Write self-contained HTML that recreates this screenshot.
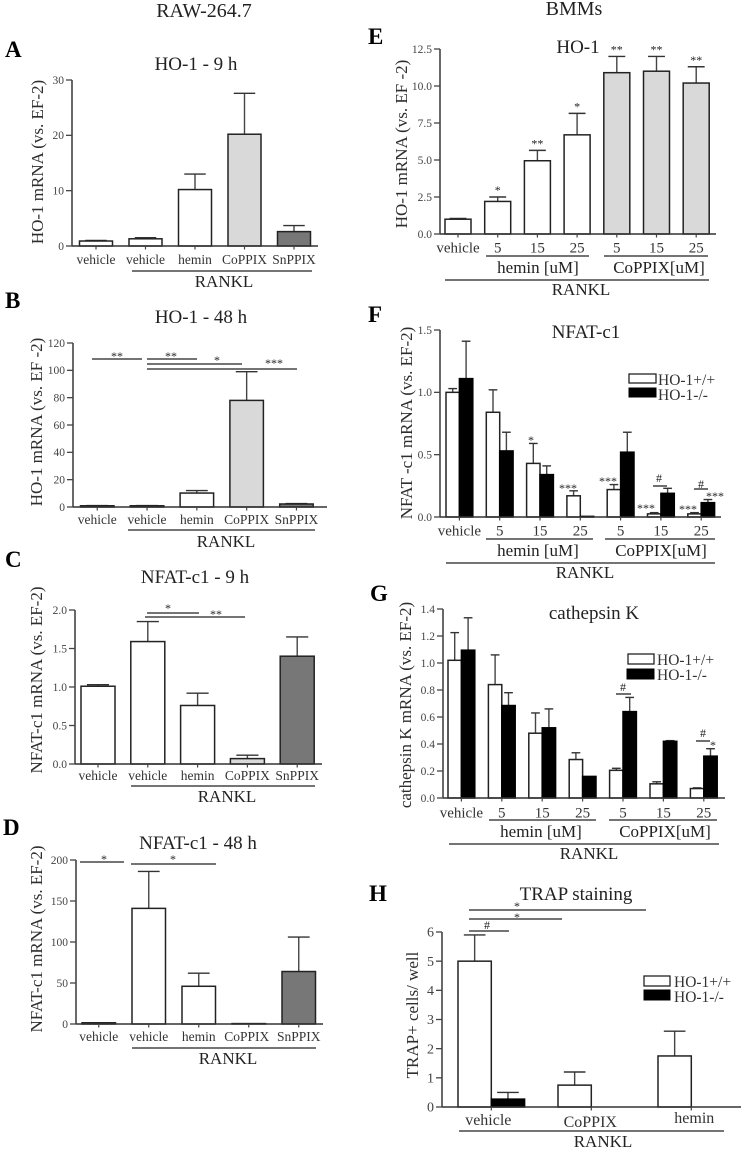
<!DOCTYPE html>
<html lang="en">
<head>
<meta charset="utf-8">
<title>HO-1, NFAT-c1 and cathepsin K expression panels</title>
<style>
html,body{margin:0;padding:0;background:#fff;}
svg{display:block;filter:blur(.35px);font-family:"Liberation Serif",serif;}
text{fill:#222;}
.hd{font-size:20px;text-anchor:middle;}
.ti{font-size:19px;text-anchor:middle;}
.ltr{font-size:23px;font-weight:bold;fill:#000;}
.yl{font-size:17px;text-anchor:middle;fill:#2e2e2e;}
.rk{font-size:17px;text-anchor:middle;}
.gp{font-size:17px;text-anchor:middle;}
.lg{font-size:15.5px;fill:#333;}
.st{font-size:12px;text-anchor:middle;fill:#222;}
.ln{stroke:#222;stroke-width:1.3;fill:none;}
</style>
</head>
<body>
<svg id="figure" xmlns="http://www.w3.org/2000/svg" width="743" height="1150" viewBox="0 0 743 1150">
  <rect width="743" height="1150" fill="#fff"/>
  <text class="hd" x="204" y="17">RAW-264.7</text>
  <text class="hd" x="574" y="15">BMMs</text>

  <g id="panel-a">
    <text class="ltr" x="5" y="57">A</text>
    <text class="ti" x="196" y="70">HO-1 - 9 h</text>
    <text class="yl" transform="translate(43,162) rotate(-90)">HO-1 mRNA (vs. EF-2)</text>
    <line class="ln" x1="132" y1="271" x2="312" y2="271"/>
    <text class="rk" x="224" y="287">RANKL</text>
  </g>

  <g id="panel-b">
    <text class="ltr" x="5" y="308">B</text>
    <text class="ti" x="201" y="323">HO-1 - 48 h</text>
    <text class="yl" transform="translate(42,422) rotate(-90)">HO-1 mRNA (vs. EF -2)</text>
    <line class="ln" x1="92" y1="359" x2="142" y2="359"/>
    <line class="ln" x1="147" y1="359" x2="197" y2="359"/>
    <line class="ln" x1="147" y1="364" x2="242" y2="364"/>
    <line class="ln" x1="147" y1="369" x2="297" y2="369"/>
    <text class="st" x="117" y="360">**</text>
    <text class="st" x="171" y="360">**</text>
    <text class="st" x="217" y="364">*</text>
    <text class="st" x="274" y="367">***</text>
    <line class="ln" x1="128" y1="530" x2="315" y2="530"/>
    <text class="rk" x="226" y="547">RANKL</text>
  </g>

  <g id="panel-c">
    <text class="ltr" x="5" y="567">C</text>
    <text class="ti" x="195" y="583">NFAT-c1 - 9 h</text>
    <text class="yl" transform="translate(42,680) rotate(-90)">NFAT-c1 mRNA (vs. EF-2)</text>
    <line class="ln" x1="147" y1="613" x2="199" y2="613"/>
    <line class="ln" x1="145" y1="617" x2="245" y2="617"/>
    <text class="st" x="168" y="612">*</text>
    <text class="st" x="216" y="618">**</text>
    <line class="ln" x1="131" y1="786" x2="315" y2="786"/>
    <text class="rk" x="227" y="802">RANKL</text>
  </g>

  <g id="panel-d">
    <text class="ltr" x="3" y="835">D</text>
    <text class="ti" x="198" y="849">NFAT-c1 - 48 h</text>
    <text class="yl" transform="translate(42,939) rotate(-90)">NFAT-c1 mRNA (vs. EF-2)</text>
    <line class="ln" x1="80" y1="862" x2="124" y2="862"/>
    <line class="ln" x1="131" y1="864" x2="216" y2="864"/>
    <text class="st" x="104" y="863">*</text>
    <text class="st" x="173" y="863">*</text>
    <line class="ln" x1="132" y1="1048" x2="316" y2="1048"/>
    <text class="rk" x="228" y="1064">RANKL</text>
  </g>

  <g id="panel-e">
    <text class="ltr" x="368" y="44">E</text>
    <text class="ti" x="578" y="53">HO-1</text>
    <text class="yl" transform="translate(407,144) rotate(-90)">HO-1 mRNA (vs. EF -2)</text>
    <line class="ln" x1="486" y1="256" x2="589" y2="256"/>
    <line class="ln" x1="604" y1="256" x2="708" y2="256"/>
    <text class="gp" x="538" y="273">hemin [uM]</text>
    <text class="gp" x="659" y="273">CoPPIX[uM]</text>
    <line class="ln" x1="445" y1="280" x2="709" y2="280"/>
    <text class="rk" x="581" y="295">RANKL</text>
  </g>

  <g id="panel-f">
    <text class="ltr" x="368" y="322">F</text>
    <text class="ti" x="586" y="338">NFAT-c1</text>
    <text class="yl" transform="translate(412,423) rotate(-90)">NFAT -c1 mRNA (vs. EF-2)</text>
    <rect x="629" y="374" width="27" height="9" fill="#fff" stroke="#222" stroke-width="1.3"/>
    <rect x="629" y="388" width="27" height="9" fill="#000" stroke="#000"/>
    <text class="lg" x="658" y="385">HO-1+/+</text>
    <text class="lg" x="658" y="400">HO-1-/-</text>
    <text class="st" x="531" y="444">*</text>
    <text class="st" x="568" y="492">***</text>
    <text class="st" x="608" y="485">***</text>
    <text class="st" x="646" y="512">***</text>
    <text class="st" x="688" y="513">***</text>
    <text class="st" x="715" y="500">***</text>
    <text class="st" x="659" y="482">#</text>
    <text class="st" x="701" y="488">#</text>
    <line class="ln" x1="653" y1="486" x2="667" y2="486"/>
    <line class="ln" x1="694" y1="489" x2="708" y2="489"/>
    <line class="ln" x1="486" y1="539" x2="593" y2="539"/>
    <line class="ln" x1="605" y1="539" x2="715" y2="539"/>
    <text class="gp" x="538" y="556">hemin [uM]</text>
    <text class="gp" x="661" y="556">CoPPIX[uM]</text>
    <line class="ln" x1="446" y1="563" x2="715" y2="563"/>
    <text class="rk" x="585" y="578">RANKL</text>
  </g>

  <g id="panel-g">
    <text class="ltr" x="370" y="601">G</text>
    <text class="ti" x="594" y="619">cathepsin K</text>
    <text class="yl" transform="translate(411,705) rotate(-90)">cathepsin K mRNA (vs. EF-2)</text>
    <rect x="628" y="654" width="26" height="10" fill="#fff" stroke="#222" stroke-width="1.3"/>
    <rect x="627" y="669" width="27" height="10" fill="#000" stroke="#000"/>
    <text class="lg" x="657" y="665">HO-1+/+</text>
    <text class="lg" x="657" y="680">HO-1-/-</text>
    <text class="st" x="623" y="691">#</text>
    <text class="st" x="703" y="737">#</text>
    <text class="st" x="713" y="749">*</text>
    <line class="ln" x1="616" y1="694" x2="631" y2="694"/>
    <line class="ln" x1="696" y1="741" x2="710" y2="741"/>
    <line class="ln" x1="489" y1="820" x2="596" y2="820"/>
    <line class="ln" x1="609" y1="820" x2="717" y2="820"/>
    <text class="gp" x="541" y="837">hemin [uM]</text>
    <text class="gp" x="665" y="837">CoPPIX[uM]</text>
    <line class="ln" x1="449" y1="844" x2="719" y2="844"/>
    <text class="rk" x="589" y="859">RANKL</text>
  </g>

  <g id="panel-h">
    <text class="ltr" x="369" y="901">H</text>
    <text class="ti" x="576" y="900">TRAP staining</text>
    <text class="yl" transform="translate(418,1015) rotate(-90)">TRAP+ cells/ well</text>
    <line class="ln" x1="469" y1="910" x2="646" y2="910"/>
    <line class="ln" x1="469" y1="919" x2="562" y2="919"/>
    <line class="ln" x1="469" y1="931" x2="509" y2="931"/>
    <text class="st" x="517" y="910">*</text>
    <text class="st" x="517" y="921">*</text>
    <text class="st" x="487" y="929">#</text>
    <rect x="644" y="976" width="26" height="10" fill="#fff" stroke="#222" stroke-width="1.3"/>
    <rect x="644" y="990" width="26" height="10" fill="#000" stroke="#000"/>
    <text class="lg" x="674" y="987">HO-1+/+</text>
    <text class="lg" x="674" y="1002">HO-1-/-</text>
    <line class="ln" x1="459" y1="1131" x2="724" y2="1131"/>
    <text class="rk" x="603" y="1147">RANKL</text>
  </g>
</svg>

<script>
// Panel data -----------------------------------------------------------
const rawCategories = ['vehicle', 'vehicle', 'hemin', 'CoPPIX', 'SnPPIX'];
const doseCategories = ['vehicle', '5', '15', '25', '5', '15', '25'];
const trapCategories = ['vehicle', 'CoPPIX', 'hemin'];

const panelATicks = ['0', '10', '20', '30'];
const panelAValues = [0.9, 1.3, 10.2, 20.2, 2.6];
const panelAErrorTops = [1.0, 1.5, 13.0, 27.6, 3.7];

const panelBTicks = ['0', '20', '40', '60', '80', '100', '120'];
const panelBValues = [0.9, 0.9, 10.2, 78, 2.2];
const panelBErrorTops = [1.0, 1.0, 12, 99, 2.5];

const panelCTicks = ['0.0', '0.5', '1.0', '1.5', '2.0'];
const panelCValues = [1.01, 1.59, 0.76, 0.07, 1.40];
const panelCErrorTops = [1.03, 1.85, 0.92, 0.115, 1.65];

const panelDTicks = ['0', '50', '100', '150', '200'];
const panelDValues = [1.5, 141, 46, 0.5, 64];
const panelDErrorTops = [1.5, 186, 62, 0.5, 106];

const panelETicks = ['0.0', '2.5', '5.0', '7.5', '10.0', '12.5'];
const panelEValues = [1.0, 2.2, 4.95, 6.7, 10.9, 11.0, 10.2];
const panelEErrorTops = [1.05, 2.5, 5.65, 8.15, 12.0, 12.0, 11.3];
const panelEStars = ['', '*', '**', '*', '**', '**', '**'];

const panelFTicks = ['0.0', '0.5', '1.0', '1.5'];
const panelFWildType = [1.0, 0.84, 0.43, 0.17, 0.22, 0.025, 0.025];
const panelFWildTypeTops = [1.03, 1.02, 0.59, 0.21, 0.26, 0.035, 0.035];
const panelFKnockout = [1.11, 0.53, 0.34, 0.005, 0.52, 0.19, 0.115];
const panelFKnockoutTops = [1.41, 0.68, 0.41, 0.005, 0.68, 0.23, 0.14];

const panelGTicks = ['0.0', '0.2', '0.4', '0.6', '0.8', '1.0', '1.2', '1.4'];
const panelGWildType = [1.02, 0.84, 0.48, 0.285, 0.205, 0.105, 0.07];
const panelGWildTypeTops = [1.225, 1.06, 0.63, 0.335, 0.22, 0.12, 0.075];
const panelGKnockout = [1.095, 0.685, 0.52, 0.16, 0.64, 0.42, 0.31];
const panelGKnockoutTops = [1.335, 0.78, 0.66, 0.16, 0.745, 0.425, 0.365];

const panelHTicks = ['0', '1', '2', '3', '4', '5', '6'];
const panelHWildType = [5.0, 0.75, 1.75];
const panelHWildTypeTops = [5.9, 1.2, 2.6];
const panelHKnockout = [0.27, 0, 0];
const panelHKnockoutTops = [0.5, 0, 0];

// Drawing helpers ------------------------------------------------------
const SVG_NS = 'http://www.w3.org/2000/svg';

function make(tag, name, parent, props, text) {
  const el = document.createElementNS(SVG_NS, tag);
  
  
  Object.keys(props).forEach(function (k) { el.setAttribute(k, props[k]); });
  if (text !== undefined) el.textContent = text;
  parent.appendChild(el);
  return el;
}

function drawPanel(cfg) {
  const root = document.getElementById(cfg.id);
  const yMax = parseFloat(cfg.ticks[cfg.ticks.length - 1]);
  const yScale = function (v) { return cfg.y0 - (v / yMax) * (cfg.y0 - cfg.yTop); };
  const groupLeft = function (i) { return cfg.left + cfg.step * i; };
  const groupCenter = function (i) { return groupLeft(i) + cfg.barW * cfg.series.length / 2; };
  const axisColor = '#444';

  cfg.series.forEach(function (s, si) {
    s.values.forEach(function (v, i) {
      const x = groupLeft(i) + si * cfg.barW;
      const cx = x + cfg.barW / 2;
      const capW = cfg.barW * 0.65;
      if (s.tops[i] > v) {
        make('line', 'error-bar', root, { x1: cx, x2: cx, y1: yScale(v), y2: yScale(s.tops[i]), stroke: '#444', 'stroke-width': 1.4 });
        make('line', 'error-bar-cap', root, { x1: cx - capW / 2, x2: cx + capW / 2, y1: yScale(s.tops[i]), y2: yScale(s.tops[i]), stroke: '#333', 'stroke-width': 1.4 });
      }
      const fill = s.fills ? s.fills[i] : s.fill;
      make('rect', 'bar', root, {
        x: x, y: yScale(v), width: cfg.barW, height: cfg.y0 - yScale(v),
        fill: fill,
        stroke: v > 0 ? (fill === '#000' ? '#000' : '#222') : 'none',
        'stroke-width': 1.5
      });
    });
  });

  make('line', 'y-axis', root, { x1: cfg.axisX, x2: cfg.axisX, y1: cfg.yTop, y2: cfg.y0, stroke: axisColor, 'stroke-width': 1.6 });
  make('line', 'x-axis', root, { x1: cfg.axisX, x2: cfg.xEnd, y1: cfg.y0, y2: cfg.y0, stroke: '#333', 'stroke-width': 1.4 });

  cfg.ticks.forEach(function (label) {
    const y = yScale(parseFloat(label));
    make('line', 'y-tick', root, { x1: cfg.axisX - 6, x2: cfg.axisX, y1: y, y2: y, stroke: axisColor, 'stroke-width': 1.3 });
    make('text', 'y-tick-label', root, {
      x: cfg.axisX - 8, y: y + cfg.tickFont * 0.33, 'text-anchor': 'end',
      'font-size': cfg.tickFont, style: 'fill:#444'
    }, label);
  });

  cfg.categories.forEach(function (label, i) {
    const cx = groupCenter(i);
    make('line', 'x-tick', root, { x1: cx, x2: cx, y1: cfg.y0, y2: cfg.y0 + 3.5, stroke: axisColor, 'stroke-width': 1.2 });
    const dx = cfg.labelDx ? cfg.labelDx[i] : 0;
    const dy = cfg.labelDy ? cfg.labelDy[i] : 0;
    make('text', 'x-category-label', root, {
      x: cx + dx, y: cfg.labelY + dy + cfg.labelFont * 0.3, 'text-anchor': 'middle',
      'font-size': cfg.labelFont, style: 'fill:#333'
    }, label);
  });

  if (cfg.stars) {
    cfg.stars.forEach(function (mark, i) {
      if (!mark) return;
      make('text', 'significance-mark', root, {
        x: groupCenter(i), y: yScale(cfg.series[0].tops[i]) - 8 + 5,
        'text-anchor': 'middle', 'font-size': 12, style: 'fill:#222'
      }, mark);
    });
  }
}

const rawFills = ['#fff', '#fff', '#fff', '#d9d9d9', '#777'];
const hoFills = ['#fff', '#fff', '#fff', '#fff', '#d9d9d9', '#d9d9d9', '#d9d9d9'];

drawPanel({ id: 'panel-a', axisX: 72, y0: 246, yTop: 80, xEnd: 318, left: 79.5, step: 49.5, barW: 33,
  ticks: panelATicks, categories: rawCategories, labelY: 260, labelFont: 13.5, tickFont: 11.5,
  series: [{ values: panelAValues, tops: panelAErrorTops, fills: rawFills }] });

drawPanel({ id: 'panel-b', axisX: 73, y0: 507, yTop: 343, xEnd: 327, left: 80.5, step: 49.8, barW: 33.5,
  ticks: panelBTicks, categories: rawCategories, labelY: 520, labelFont: 13.5, tickFont: 11.5,
  series: [{ values: panelBValues, tops: panelBErrorTops, fills: rawFills }] });

drawPanel({ id: 'panel-c', axisX: 75, y0: 764, yTop: 610, xEnd: 322, left: 81, step: 49.8, barW: 34,
  ticks: panelCTicks, categories: rawCategories, labelY: 776, labelFont: 13.5, tickFont: 11.5,
  series: [{ values: panelCValues, tops: panelCErrorTops, fills: rawFills }] });

drawPanel({ id: 'panel-d', axisX: 76, y0: 1024, yTop: 860, xEnd: 323, left: 82, step: 50, barW: 33.5,
  ticks: panelDTicks, categories: rawCategories, labelY: 1037, labelFont: 13.5, tickFont: 11.5,
  labelDx: [0, 0, 0, -2, 0],
  series: [{ values: panelDValues, tops: panelDErrorTops, fills: rawFills }] });

drawPanel({ id: 'panel-e', axisX: 440, y0: 234, yTop: 49, xEnd: 716, left: 445, step: 39.7, barW: 26,
  ticks: panelETicks, categories: doseCategories, labelY: 248, labelFont: 15, tickFont: 11.5, stars: panelEStars,
  series: [{ values: panelEValues, tops: panelEErrorTops, fills: hoFills }] });

drawPanel({ id: 'panel-f', axisX: 440, y0: 517, yTop: 330, xEnd: 721, left: 446, step: 40.3, barW: 13.4,
  ticks: panelFTicks, categories: doseCategories, labelY: 531, labelFont: 15, tickFont: 11.5,
  series: [{ values: panelFWildType, tops: panelFWildTypeTops, fill: '#fff' },
           { values: panelFKnockout, tops: panelFKnockoutTops, fill: '#000' }] });

drawPanel({ id: 'panel-g', axisX: 443, y0: 798, yTop: 609, xEnd: 725, left: 448, step: 40.4, barW: 13.4,
  ticks: panelGTicks, categories: doseCategories, labelY: 813, labelFont: 15, tickFont: 11.5,
  series: [{ values: panelGWildType, tops: panelGWildTypeTops, fill: '#fff' },
           { values: panelGKnockout, tops: panelGKnockoutTops, fill: '#000' }] });

drawPanel({ id: 'panel-h', axisX: 442, y0: 1107, yTop: 932, xEnd: 741, left: 458, step: 100, barW: 33.3,
  ticks: panelHTicks, categories: trapCategories, labelY: 1120, labelFont: 16, tickFont: 14,
  labelDx: [-3, -1, 3], labelDy: [0, 2, -2],
  series: [{ values: panelHWildType, tops: panelHWildTypeTops, fill: '#fff' },
           { values: panelHKnockout, tops: panelHKnockoutTops, fill: '#000' }] });
</script>
</body>
</html>
